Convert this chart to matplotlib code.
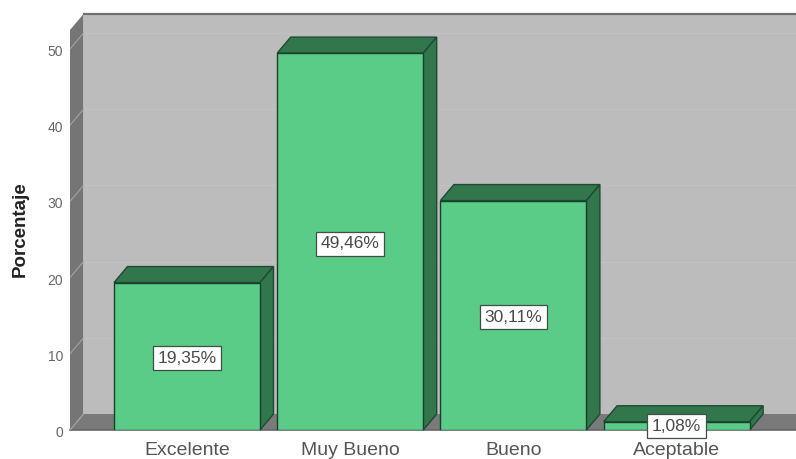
import matplotlib
matplotlib.use("Agg")
import matplotlib.pyplot as plt
from matplotlib.patches import Polygon

plt.rcParams["font.family"] = ["Liberation Sans", "DejaVu Sans"]

categories = ["Excelente", "Muy Bueno", "Bueno", "Aceptable"]
values = [19.35, 49.46, 30.11, 1.08]
value_labels = ["19,35%", "49,46%", "30,11%", "1,08%"]
y_ticks = [0, 10, 20, 30, 40, 50]

W, H = 796, 459
fig = plt.figure(figsize=(W / 100, H / 100), dpi=100)
ax = fig.add_axes([70 / W, 1 - 430 / H, 726 / W, 400 / H])

# scales: 163.2 px per category, 7.62 px per percent
px_x = 163.2
px_y = 7.62
ax.set_xlim((70 - 187) / px_x, (796 - 187) / px_x)
ax.set_ylim(0, 400 / px_y)
ax.axis("off")

dx = 13.5 / px_x
dy = 16 / px_y
bar_w = 146 / px_x
x0, x1 = ax.get_xlim()
y_top = ax.get_ylim()[1]


def poly(points, face, edge="none", lw=0.0, z=1):
    ax.add_patch(Polygon(points, closed=True, facecolor=face, edgecolor=edge, linewidth=lw,
                         zorder=z, clip_on=False))


# walls and floor
poly([(x0 + dx, dy), (x1, dy), (x1, y_top + dy), (x0 + dx, y_top + dy)], "#bdbcbd")
poly([(x0, 0), (x0 + dx, dy), (x0 + dx, y_top + dy), (x0, y_top)], "#757575")
poly([(x0, 0), (x1, 0), (x1, dy), (x0 + dx, dy)], "#7a7a7a")
ax.plot([x0 + dx, x1], [y_top + dy, y_top + dy], color="#6e6e6e", lw=1.6, clip_on=False, zorder=2)
ax.plot([x0, x1], [0, 0], color="#666666", lw=1.2, zorder=2, clip_on=False)

for t in y_ticks[1:]:
    ax.plot([x0 + dx, x1], [t + dy, t + dy], color="#c3c2c3", lw=0.8, zorder=2)
    ax.plot([x0, x0 + dx], [t, t + dy], color="#a3a3a3", lw=0.8, zorder=2)
ax.plot([x0, x0 + dx], [0, dy], color="#a3a3a3", lw=0.8, zorder=2)

# bars
xs = list(range(len(values)))
ax.bar(xs, values, width=bar_w, color="#5bcb88", edgecolor="#17402a", linewidth=1.0, zorder=4)
for x, v in zip(xs, values):
    l, r = x - bar_w / 2, x + bar_w / 2
    poly([(l, v), (r, v), (r + dx, v + dy), (l + dx, v + dy)], "#32774c", "#1d4a30", 1.0, 3)
    poly([(r, 0), (r + dx, dy), (r + dx, v + dy), (r, v)], "#32774c", "#1d4a30", 1.0, 3)

# labels, nudged down a little to sit like the original
for x, v, s in zip(xs, values, value_labels):
    ax.text(x, max(v / 2, 0.75) - 2 / px_y, s, ha="center", va="center", fontsize=12.5, color="#4a4a4a", zorder=6,
            bbox=dict(boxstyle="square,pad=0.26", facecolor="white", edgecolor="#3f4f45", linewidth=0.9))

for x, c in zip(xs, categories):
    ax.text(x, -2.75, c, ha="center", va="center", fontsize=14, color="#555555", clip_on=False)
for t in y_ticks:
    ax.text(x0 - 7 / px_x, t - 3 / px_y, str(t), ha="right", va="center", fontsize=10, color="#666666", clip_on=False)

fig.text(20 / W, 1 - 229 / H, "Porcentaje", rotation=90, ha="center", va="center",
         fontsize=13.5, fontweight="bold", color="#222222")

fig.savefig("out.png", dpi=100)
